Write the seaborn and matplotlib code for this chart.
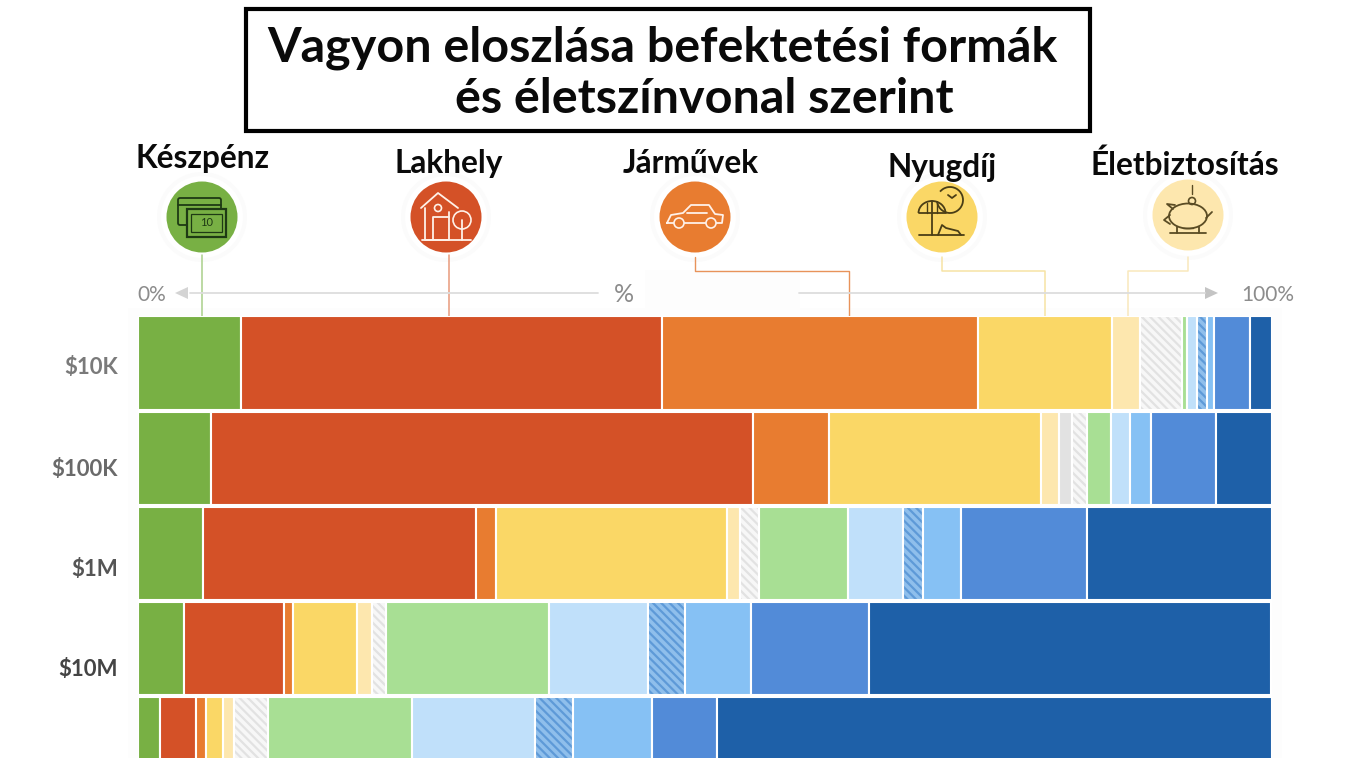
import numpy as np
import matplotlib
matplotlib.use('Agg')
import matplotlib.pyplot as plt
from matplotlib.patches import Arc, Circle, Ellipse, FancyBboxPatch, Polygon, Rectangle
import seaborn as sns

# wealth level rows, the last one has no visible label
rows = ['$10K', '$100K', '$1M', '$10M', '']
row_labels = ['$10K', '$100K', '$1M', '$10M']

# shares in percent, one list per asset type, one value per row
cash = [9.1, 6.4, 5.7, 4.1, 1.9]
home = [37.1, 47.8, 24.1, 8.8, 3.2]
vehicles = [27.9, 6.7, 1.8, 0.8, 0.9]
pension = [11.8, 18.7, 20.3, 5.6, 1.5]
life_ins = [2.5, 1.6, 1.2, 1.3, 1.0]
gray_solid = [0, 1.2, 0, 0, 0]
gray_hatch = [3.7, 1.3, 1.7, 1.3, 3.0]
lt_green = [0.4, 2.1, 7.8, 14.3, 12.7]
pale_blue = [0.9, 1.7, 4.9, 8.8, 10.8]
blue_hatch = [0.9, 0, 1.7, 3.2, 3.4]
sky_blue = [0.6, 1.8, 3.4, 5.9, 6.9]
mid_blue = [3.2, 5.8, 11.1, 10.4, 5.8]
dark_blue = [1.9, 4.9, 16.3, 35.4, 48.9]

series = [cash, home, vehicles, pension, life_ins, gray_solid, gray_hatch,
          lt_green, pale_blue, blue_hatch, sky_blue, mid_blue, dark_blue]
colors = ['#78B044', '#D45127', '#E87C30', '#FAD766', '#FDE7AE', '#E2E2E2', '#F7F7F7',
          '#A8DF94', '#C0E0FA', '#8FBFEC', '#86C1F4', '#528BD8', '#1E60A8']
hatch_colors = {6: '#E2E2E2', 9: '#5E9AD8'}

title_lines = ['Vagyon eloszlása befektetési formák', 'és életszínvonal szerint']
icon_labels = ['Készpénz', 'Lakhely', 'Járművek', 'Nyugdíj', 'Életbiztosítás']

sns.set_theme(style='white')
plt.rcParams['font.family'] = ['Lato', 'DejaVu Sans']
plt.rcParams['hatch.linewidth'] = 1.6

W, H = 1347, 758
fig = plt.figure(figsize=(W / 100, H / 100), dpi=100, facecolor='white')

# overlay in pixel coordinates for the title, icons and connectors
bg = fig.add_axes([0, 0, 1, 1], zorder=0)
bg.set_xlim(0, W)
bg.set_ylim(H, 0)
bg.axis('off')

# bars
ax = fig.add_axes([138 / W, 0, (1272 - 138) / W, (758 - 316) / H], zorder=1)
ax.patch.set_alpha(0)
left = np.zeros(len(rows))
for i, (vals, col) in enumerate(zip(series, colors)):
    vals = np.array(vals, dtype=float)
    keep = vals > 0
    y_kept = [r for r, k in zip(rows, keep) if k]
    n_before = len(ax.patches)
    sns.barplot(x=vals[keep], y=y_kept, left=left[keep], order=rows, orient='h',
                color=col, width=0.98, linewidth=0, saturation=1, ax=ax, legend=False)
    if i in hatch_colors:
        for p in ax.patches[n_before:]:
            p.set_hatch('\\\\\\\\')
            p.set_edgecolor(hatch_colors[i])
    # white outline makes the gaps between the segments
    sns.barplot(x=vals[keep], y=y_kept, left=left[keep], order=rows, orient='h',
                color='white', fill=False, width=0.98, linewidth=1.5, ax=ax, legend=False)
    left += vals
ax.set_xlim(0, 100)
ax.set_ylim(4.148, -0.493)
ax.axis('off')

# soft panel behind the bars
bg.add_patch(Rectangle((128, 308), 1154, 460, fc='#FDFDFD', ec='none'))
bg.add_patch(Rectangle((645, 270), 155, 42, fc='#FDFDFD', ec='none'))

# title box
bg.add_patch(Rectangle((246, 9), 844, 122, fc='white', ec='black', lw=3))
bg.text(267, 61, title_lines[0], fontsize=34.9, fontweight='bold', color='#0A0A0A', ha='left', va='baseline')
bg.text(455, 113, title_lines[1], fontsize=34.9, fontweight='bold', color='#0A0A0A', ha='left', va='baseline')

# connectors
bg.plot([202, 202], [255, 317], color='#A9D08A', lw=1.1)
bg.plot([449, 449], [255, 317], color='#E89A7C', lw=1.1)
bg.plot([695, 695, 849, 849], [257, 271, 271, 317], color='#E8935A', lw=1.0)
bg.plot([942, 942, 1045, 1045], [257, 271, 271, 317], color='#F6E3A4', lw=1.1)
bg.plot([1188, 1188, 1128, 1128], [257, 271, 271, 317], color='#F9E8BC', lw=1.1)

# percent axis
bg.plot([190, 598], [293, 293], color='#DDDDDD', lw=1.3)
bg.plot([799, 1205], [293, 293], color='#DDDDDD', lw=1.3)
bg.add_patch(Polygon([[175, 293], [188, 287], [188, 299]], fc='#D4D4D4', ec='none'))
bg.add_patch(Polygon([[1218, 293], [1205, 287], [1205, 299]], fc='#C4C4C4', ec='none'))
bg.text(152, 295, '0%', fontsize=15, color='#8C8C8C', ha='center', va='center')
bg.text(624, 295, '%', fontsize=18, color='#8C8C8C', ha='center', va='center')
bg.text(1268, 295, '100%', fontsize=15, color='#8C8C8C', ha='center', va='center')

# row labels
for lab, y, col in zip(row_labels, [368, 469, 569, 670], ['#7A7A7A', '#6A6A6A', '#555555', '#444444']):
    bg.text(118, y, lab, fontsize=16, fontweight='bold', color=col, ha='right', va='center')

# icon circles and headings
centers = [(202, 217), (446, 217), (695, 217), (942, 217), (1188, 215)]
circle_cols = ['#78B044', '#D45127', '#E87C30', '#FAD766', '#FDE7AE']
label_pos = [(203, 168), (449, 173), (691, 173), (942, 177), (1185, 175)]
for (cx, cy), c, lab, (lx, ly) in zip(centers, circle_cols, icon_labels, label_pos):
    bg.add_patch(Circle((cx, cy), 45, fc='#FBFBFB', ec='none'))
    bg.add_patch(Circle((cx, cy), 41, fc='white', ec='none'))
    bg.add_patch(Circle((cx, cy), 35.5, fc=c, ec='none'))
    bg.text(lx, ly, lab, fontsize=22.8, fontweight='bold', color='#0A0A0A', ha='center', va='baseline')


def line(xs, ys, cx, cy, col, lw=1.3):
    bg.plot(np.array(xs) + cx, np.array(ys) + cy, color=col, lw=lw, solid_capstyle='round', zorder=5)


# cash icon
cx, cy = centers[0]
g = '#1E3A14'
bg.add_patch(FancyBboxPatch((cx - 24, cy - 19), 43, 27, boxstyle='round,pad=0,rounding_size=2', fc='none', ec=g, lw=1.3, zorder=5))
line([-24, 19], [-12, -12], cx, cy, g)
bg.add_patch(Rectangle((cx - 15, cy - 8), 39, 28, fc='#78B044', ec=g, lw=1.6, zorder=6))
bg.add_patch(Rectangle((cx - 11, cy - 3), 31, 18, fc='none', ec=g, lw=0.9, zorder=7))
bg.text(cx + 5, cy + 6, '10', fontsize=8, color=g, ha='center', va='center', zorder=8)

# house icon
cx, cy = centers[1]
w = '#FFF1E8'
line([-25, -8, 12], [-9, -24, -9], cx, cy, w)
line([-21, -21, 3, 3], [-9, 23, 23, -5], cx, cy, w)
line([-13, -13, 3], [23, 0, 0], cx, cy, w)
bg.add_patch(Circle((cx - 8, cy - 9), 3.5, fc='none', ec=w, lw=1.2, zorder=5))
bg.add_patch(Circle((cx + 16, cy + 3), 9, fc='none', ec=w, lw=1.2, zorder=5))
line([16, 16], [3, 23], cx, cy, w)
line([-24, 25], [23, 23], cx, cy, w)

# car icon
cx, cy = centers[2]
line([-28, -24, -12, -4, 14, 20, 28, 27, -28, -28], [6, -2, -4, -12, -12, -3, -2, 6, 6, 6], cx, cy, w)
line([-8, 12], [-4, -4], cx, cy, w)
bg.add_patch(Circle((cx - 16, cy + 6), 5, fc='#E87C30', ec=w, lw=1.2, zorder=6))
bg.add_patch(Circle((cx + 16, cy + 6), 5, fc='#E87C30', ec=w, lw=1.2, zorder=6))

# beach icon
cx, cy = centers[3]
d = '#4A3E16'
bg.add_patch(Arc((cx + 8, cy - 17), 26, 26, theta1=-140, theta2=175, ec=d, lw=1.3, zorder=5))
bg.add_patch(Arc((cx - 10, cy - 4), 27, 24, theta1=180, theta2=360, ec=d, lw=1.3, zorder=5))
line([-23.5, 3.5], [-4, -4], cx, cy, d)
line([-10, -10], [-16, 18], cx, cy, d)
line([-15, -15], [-14, -4], cx, cy, d, 1)
line([-5, -5], [-14, -4], cx, cy, d, 1)
line([-23, 22], [18, 18], cx, cy, d)
line([-4, 0, 4, 16, 19], [18, 8, 11, 14, 18], cx, cy, d)
line([6, 10, 14], [-22, -19, -22], cx, cy, d)

# piggy bank icon
cx, cy = centers[4]
d = '#5A4C24'
bg.add_patch(Ellipse((cx, cy + 1), 38, 25, fc='none', ec=d, lw=1.3, zorder=5))
line([-15, -21, -13], [-6, -11, -10], cx, cy, d)
line([-18, -24, -18], [0, 5, 9], cx, cy, d)
line([-11, -11], [12, 18], cx, cy, d)
line([11, 11], [12, 18], cx, cy, d)
line([-5, 5], [13, 13], cx, cy, d, 1)
line([-18, 18], [18, 18], cx, cy, d)
line([18, 24], [3, -3], cx, cy, d)
bg.add_patch(Circle((cx + 4, cy - 14), 3.5, fc='none', ec=d, lw=1.2, zorder=5))
line([4, 4], [-30, -21], cx, cy, d, 1)

plt.savefig('out.png', dpi=100)
